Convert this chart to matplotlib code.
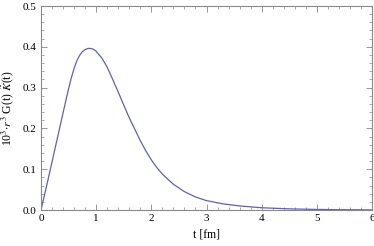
import matplotlib
matplotlib.use("Agg")
import matplotlib.pyplot as plt
from matplotlib.ticker import MultipleLocator

# values
t_fm = [0.0, 0.1, 0.2, 0.3, 0.4, 0.45, 0.5, 0.55, 0.6, 0.65, 0.7, 0.75, 0.8,
        0.85, 0.9, 0.95, 1.0, 1.1, 1.2, 1.3, 1.4, 1.5, 1.6, 1.7, 1.8, 1.9,
        2.0, 2.1, 2.2, 2.4, 2.6, 2.8, 3.0, 3.3, 3.6, 4.0, 4.5, 5.0, 5.5, 6.0]
signal = [0.0, 0.058, 0.118, 0.178, 0.238, 0.268, 0.297, 0.324, 0.347, 0.366,
          0.379, 0.388, 0.393, 0.396, 0.396, 0.394, 0.389, 0.373, 0.350,
          0.320, 0.289, 0.257, 0.226, 0.198, 0.170, 0.145, 0.123, 0.104,
          0.088, 0.063, 0.045, 0.032, 0.023, 0.015, 0.010, 0.0055, 0.0028,
          0.0014, 0.0007, 0.0003]

plt.rcParams["font.family"] = ["Liberation Serif", "DejaVu Serif"]
plt.rcParams["mathtext.fontset"] = "stix"

fig = plt.figure(figsize=(3.74, 2.46), dpi=100)
ax = fig.add_axes([0.1096, 0.1463, 0.8851, 0.8293])

ax.plot(t_fm, signal, color="#6060b8", lw=0.9)

ax.set_xlim(0, 6)
ax.set_ylim(0, 0.5)
ax.xaxis.set_major_locator(MultipleLocator(1))
ax.xaxis.set_minor_locator(MultipleLocator(0.2))
ax.yaxis.set_major_locator(MultipleLocator(0.1))
ax.yaxis.set_minor_locator(MultipleLocator(0.02))
ax.xaxis.set_major_formatter(plt.FormatStrFormatter("%d"))
ax.yaxis.set_major_formatter(plt.FormatStrFormatter("%.1f"))

for s in ax.spines.values():
    s.set_color("#888888")
    s.set_linewidth(0.8)
ax.tick_params(which="both", direction="in", top=True, right=True,
               color="#888888", labelsize=8, pad=3)
ax.tick_params(which="major", length=4, width=0.6)
ax.tick_params(which="minor", length=2, width=0.5)

ax.set_xlabel("t [fm]", fontsize=8.5, labelpad=4)
ax.set_ylabel(r"10$^3$$\cdot$$r^3$ G(t) $\tilde{K}$(t)", fontsize=8.5, labelpad=5)

fig.savefig("out.png", dpi=100)
